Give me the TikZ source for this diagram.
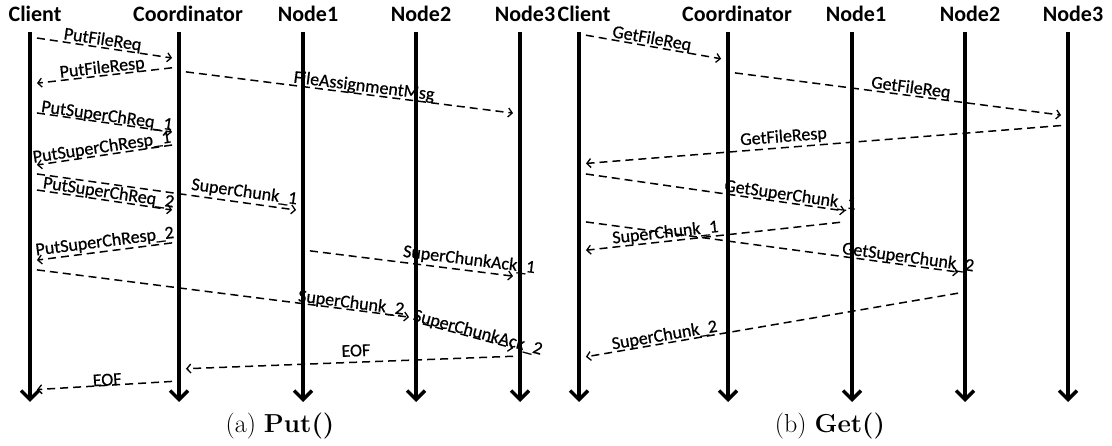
\documentclass[tikz,border=0pt]{standalone}
\usepackage{fontspec}
\newfontfamily\calib{Carlito}
\newfontfamily\calibm[FakeBold=0.6]{Carlito}
\usetikzlibrary{arrows.meta,positioning}
\tikzstyle{head}    = [anchor=base, inner sep=0pt, font=\calib\bfseries\fontsize{22}{24}\selectfont]
\tikzstyle{life}    = [line width=3.5pt, -{Straight Barb[length=9pt,width=18pt]}]
\tikzstyle{msg}     = [line width=1.5pt, dash pattern=on 8pt off 5pt, -{Straight Barb[length=4pt,width=9pt,line width=1.3pt]}, shorten <=7pt, shorten >=7pt]
\tikzstyle{lbl}     = [sloped, inner sep=0pt, font=\calibm\fontsize{18}{20}\selectfont]
\tikzstyle{captxt}  = [anchor=base, inner sep=0pt, font=\fontsize{26}{30}\selectfont]

\begin{document}
\begin{tikzpicture}[x=1pt,y=-1pt]
	\useasboundingbox (0,0) rectangle (1112,446);

	% (a) put
	\coordinate (pcl) at (30,32);
	\coordinate (pco) at (179,32);
	\coordinate (pn1) at (303,32);
	\coordinate (pn2) at (416,32);
	\coordinate (pn3) at (520,32);
	\node[head] (hpcl) at (35,22) {Client};
	\node[head] (hpco) at (188,22) {Coordinator};
	\node[head] (hpn1) at (308,22) {Node1};
	\node[head] (hpn2) at (421,22) {Node2};
	\node[head] (hpn3) at (525,22) {Node3};
	\foreach \l in {pcl,pco,pn1,pn2,pn3}
		\draw[life] (\l) -- (\l |- 0,402);

	\draw[msg] (pcl |- 0,37) -- node[lbl, above=-1pt, pos=.48] {PutFileReq} (pco |- 0,59);
	\draw[msg] (pco |- 0,67) -- node[lbl, above=-1pt, pos=.51] {PutFileResp} (pcl |- 0,84);
	\draw[msg] (pco |- 0,71) -- node[lbl, above=-1pt, pos=.54] {FileAssignmentMsg} (pn3 |- 0,114);
	\draw[msg] (pcl |- 0,112) -- node[lbl, above=-2pt, pos=.51] {PutSuperChReq\_1} (pco |- 0,133);
	\draw[msg] (pco |- 0,144) -- node[lbl, above=-1pt, pos=.51] {PutSuperChResp\_1} (pcl |- 0,166);
	\draw[msg] (pcl |- 0,173) -- node[lbl, above=2pt, pos=.78] {SuperChunk\_1} (pn1 |- 0,211);
	\draw[msg] (pcl |- 0,189) -- node[lbl, above=-1pt, pos=.52] {PutSuperChReq\_2} (pco |- 0,211);
	\draw[msg] (pco |- 0,242) -- node[lbl, above=1pt, pos=.49] {PutSuperChResp\_2} (pcl |- 0,261);
	\draw[msg] (pcl |- 0,269) -- node[lbl, above=-2pt, pos=.83] {SuperChunk\_2} (pn2 |- 0,318);
	\draw[msg] (pn1 |- 0,250) -- node[lbl, above=2pt, pos=.76] {SuperChunkAck\_1} (pn3 |- 0,277);
	\draw[msg] (pn2 |- 0,322) -- node[lbl, above=-3pt, pos=.58] {SuperChunkAck\_2} (pn3 |- 0,350);
	\draw[msg] (pn3 |- 0,356) -- node[lbl, above=5pt, pos=.48] {EOF} (pco |- 0,369);
	\draw[msg] (pco |- 0,381) -- node[lbl, above=-1pt, pos=.48] {EOF} (pcl |- 0,390);

	\node[captxt] (capa) at (280,432) {(a) \textbf{Put()}};

	% (b) get
	\coordinate (gcl) at (579,32);
	\coordinate (gco) at (728,32);
	\coordinate (gn1) at (852,32);
	\coordinate (gn2) at (965,32);
	\coordinate (gn3) at (1068,32);
	\node[head] (hgcl) at (584,22) {Client};
	\node[head] (hgco) at (737,22) {Coordinator};
	\node[head] (hgn1) at (856,22) {Node1};
	\node[head] (hgn2) at (970,22) {Node2};
	\node[head] (hgn3) at (1073,22) {Node3};
	\foreach \l in {gcl,gco,gn1,gn2,gn3}
		\draw[life] (\l) -- (\l |- 0,402);

	\draw[msg] (gcl |- 0,34) -- node[lbl, above=-1pt, pos=.48] {GetFileReq} (gco |- 0,60);
	\draw[msg] (gco |- 0,72) -- node[lbl, above=-1pt, pos=.535] {GetFileReq} (gn3 |- 0,116);
	\draw[msg] (gn3 |- 0,125) -- node[lbl, above=2pt, pos=.58] {GetFileResp} (gcl |- 0,164);
	\draw[msg] (gcl |- 0,173) -- node[lbl, above=-1pt, pos=.77] {GetSuperChunk\_1} (gn1 |- 0,212);
	\draw[msg, shorten <=12pt] (gn1 |- 0,221) -- node[lbl, above=0pt, pos=.68] {SuperChunk\_1} (gcl |- 0,251);
	\draw[msg] (gcl |- 0,221) -- node[lbl, above=-1pt, pos=.85] {GetSuperChunk\_2} (gn2 |- 0,273);
	\draw[msg] (gn2 |- 0,292) -- node[lbl, above=-1pt, pos=.775] {SuperChunk\_2} (gcl |- 0,358);

	\node[captxt] (capb) at (830,432) {(b) \textbf{Get()}};
\end{tikzpicture}
\end{document}
